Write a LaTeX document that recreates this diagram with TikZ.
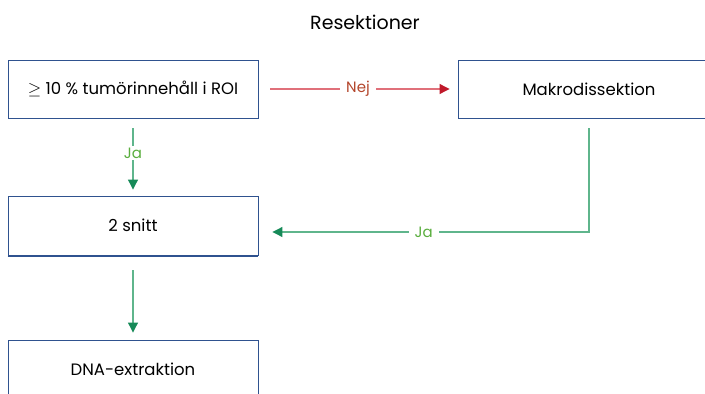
\documentclass[tikz,border=0pt]{standalone}
\usepackage{fontspec}
\setmainfont{Poppins}
\usetikzlibrary{arrows.meta}
\definecolor{boxblue}{HTML}{2F528F}
\definecolor{redline}{HTML}{E0707A}
\definecolor{redhead}{HTML}{C0182A}
\definecolor{redtext}{HTML}{B4462C}
\definecolor{greenline}{HTML}{5FB58C}
\definecolor{greenhead}{HTML}{168A58}
\definecolor{greentext}{HTML}{5AAE3E}
\tikzset{
  box/.style={draw=boxblue, line width=0.9pt, fill=white, minimum height=58pt, inner sep=0pt, font=\fontsize{16.5}{19}\selectfont},
  redarrow/.style={draw=redline, line width=1.1pt, -{Triangle[length=10pt,width=10pt,fill=redhead,color=redhead]}},
  greenarrow/.style={draw=greenline, line width=1.1pt, -{Triangle[length=10pt,width=10pt,fill=greenhead,color=greenhead]}},
  lbl/.style={fill=white, inner xsep=6pt, inner ysep=2pt, font=\fontsize{15}{17}\selectfont},
}
\begin{document}
\begin{tikzpicture}[x=1pt,y=-1pt]
\useasboundingbox (0,0) rectangle (705,394);
\clip (0,0) rectangle (705,394);
\node[font=\fontsize{19}{22}\selectfont] (title) at (365,22) {Resektioner};
\node[box, minimum width=250pt] (roi) at (133,89) {$\geq$ 10 \% tumörinnehåll i ROI};
\node[box, minimum width=262pt] (makro) at (589,89) {Makrodissektion};
\node[box, minimum width=250pt, minimum height=59pt] (snitt) at (133,225.5) {2 snitt};
\draw[boxblue, line width=0.9pt] ([yshift=-1pt]snitt.south west) -- ([yshift=-1pt]snitt.south east);
\node[box, minimum width=250pt] (dna) at (133,369) {DNA-extraktion};
\draw[redarrow, shorten <=12pt, shorten >=8pt] (roi.east) -- node[lbl, text=redtext] (nej) {Nej} (makro.west);
\draw[greenarrow, shorten <=10pt, shorten >=6pt] (roi.south) -- node[lbl, text=greentext, inner xsep=2pt, pos=0.45] (ja1) {Ja} (snitt.north);
\draw[greenarrow, shorten <=10pt, shorten >=14pt] (makro.south) |- node[lbl, text=greentext, pos=0.75] (ja2) {Ja} ([yshift=-6.5pt]snitt.east);
\draw[greenarrow, shorten <=15pt, shorten >=7pt] (snitt.south) -- (dna.north);
\end{tikzpicture}
\end{document}
